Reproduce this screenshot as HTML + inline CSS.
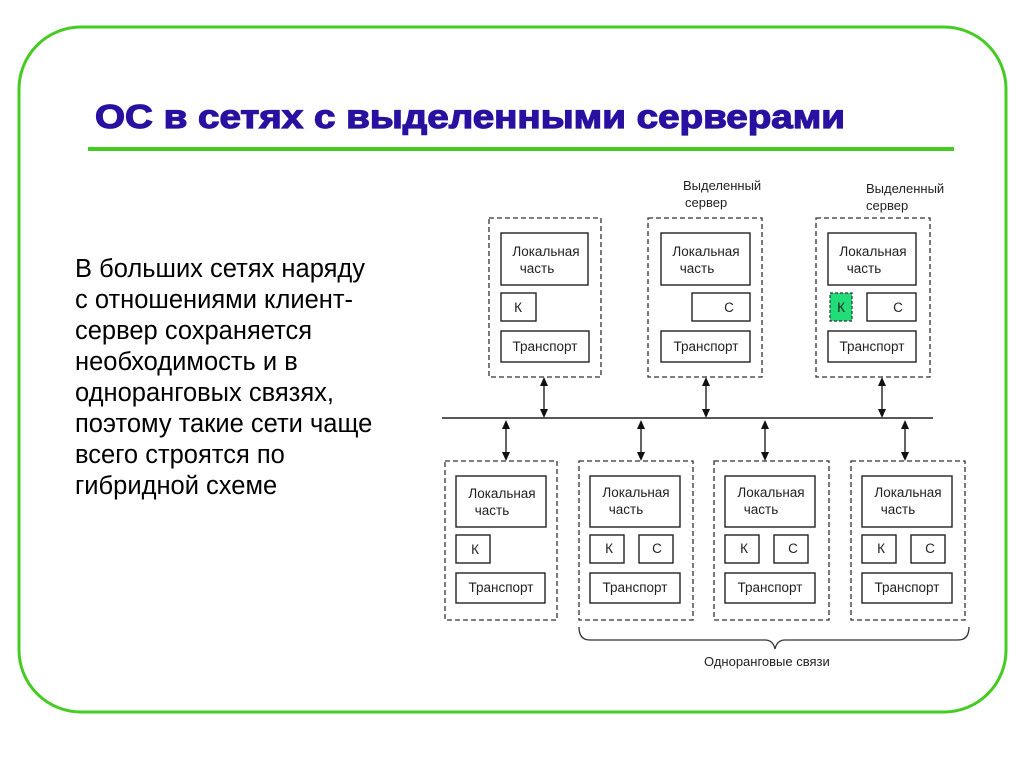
<!DOCTYPE html>
<html><head><meta charset="utf-8"><style>
html,body{margin:0;padding:0;background:#fff;}
svg{display:block;}
</style></head><body>
<svg width="1024" height="767" viewBox="0 0 1024 767" xmlns="http://www.w3.org/2000/svg" font-family="'Liberation Sans', sans-serif">
<rect x="0" y="0" width="1024" height="767" fill="#fff"/>
<rect x="19" y="27" width="987" height="685" rx="62" ry="62" fill="none" stroke="#44cc22" stroke-width="3"/>
<text x="95" y="128" font-size="33" font-weight="bold" fill="#2a10a0" textLength="750" lengthAdjust="spacingAndGlyphs" stroke="#2a10a0" stroke-width="1.2">ОС в сетях с выделенными серверами</text>
<rect x="88" y="147" width="866" height="4" fill="#44cc22"/>
<g font-size="25.5" fill="#000">
<text x="75" y="277">В больших сетях наряду</text>
<text x="75" y="308">с отношениями клиент-</text>
<text x="75" y="339">сервер сохраняется</text>
<text x="75" y="370">необходимость и в</text>
<text x="75" y="401">одноранговых связях,</text>
<text x="75" y="432">поэтому такие сети чаще</text>
<text x="75" y="463">всего строятся по</text>
<text x="75" y="494">гибридной схеме</text>
</g>
<g font-size="13" fill="#222">
<text x="683" y="190">Выделенный</text>
<text x="685" y="207">сервер</text>
<text x="866" y="193">Выделенный</text>
<text x="866" y="210">сервер</text>
<text x="704" y="666">Одноранговые связи</text>
</g>
<g fill="none" stroke="#333" stroke-width="1.3" stroke-dasharray="5,3">
<rect x="489" y="218" width="112" height="159"/>
<rect x="648" y="218" width="114" height="159"/>
<rect x="816" y="218" width="114" height="159"/>
<rect x="445" y="461" width="112" height="159"/>
<rect x="579" y="461" width="114" height="159"/>
<rect x="714" y="461" width="115" height="159"/>
<rect x="851" y="461" width="114" height="159"/>
</g>
<g fill="#fff" stroke="#222" stroke-width="1.4">
<rect x="501" y="233" width="87" height="52"/>
<rect x="501" y="293" width="35" height="28"/>
<rect x="501" y="331" width="88" height="31"/>
<rect x="661" y="233" width="89" height="52"/>
<rect x="692" y="293" width="58" height="28"/>
<rect x="661" y="331" width="89" height="31"/>
<rect x="828" y="233" width="88" height="52"/>
<rect x="867" y="293" width="49" height="28"/>
<rect x="828" y="331" width="88" height="31"/>
<rect x="456" y="476" width="90" height="51"/>
<rect x="456" y="535" width="34" height="28"/>
<rect x="456" y="573" width="89" height="30"/>
<rect x="590" y="476" width="90" height="51"/>
<rect x="590" y="535" width="34" height="28"/>
<rect x="639" y="535" width="34" height="28"/>
<rect x="590" y="573" width="90" height="30"/>
<rect x="725" y="476" width="90" height="51"/>
<rect x="725" y="535" width="34" height="28"/>
<rect x="774" y="535" width="34" height="28"/>
<rect x="725" y="573" width="90" height="30"/>
<rect x="862" y="476" width="90" height="51"/>
<rect x="862" y="535" width="34" height="28"/>
<rect x="911" y="535" width="34" height="28"/>
<rect x="862" y="573" width="90" height="30"/>
</g>
<rect x="830" y="293" width="22" height="28" fill="#22dd77" stroke="#333" stroke-width="1.2" stroke-dasharray="3,2"/>
<g font-size="13.5" fill="#222" text-anchor="middle">
<text x="546" y="256">Локальная</text><text x="537" y="273">часть</text>
<text x="518" y="312">К</text><text x="545" y="351">Транспорт</text>
<text x="706" y="256">Локальная</text><text x="697" y="273">часть</text>
<text x="729" y="312">С</text><text x="706" y="351">Транспорт</text>
<text x="873" y="256">Локальная</text><text x="864" y="273">часть</text>
<text x="841" y="312">К</text><text x="898" y="312">С</text><text x="872" y="351">Транспорт</text>
<text x="502" y="498">Локальная</text><text x="492" y="515">часть</text>
<text x="475" y="554">К</text><text x="501" y="592">Транспорт</text>
<text x="636" y="497">Локальная</text><text x="626" y="514">часть</text>
<text x="609" y="553">К</text><text x="657" y="553">С</text><text x="635" y="592">Транспорт</text>
<text x="771" y="497">Локальная</text><text x="761" y="514">часть</text>
<text x="744" y="553">К</text><text x="793" y="553">С</text><text x="770" y="592">Транспорт</text>
<text x="908" y="497">Локальная</text><text x="898" y="514">часть</text>
<text x="881" y="553">К</text><text x="930" y="553">С</text><text x="907" y="592">Транспорт</text>
</g>
<line x1="442" y1="418" x2="933" y2="418" stroke="#222" stroke-width="1.5"/>
<g stroke="#222" stroke-width="1.4">
<line x1="544" y1="383" x2="544" y2="412"/>
<line x1="706" y1="383" x2="706" y2="412"/>
<line x1="882" y1="383" x2="882" y2="412"/>
<line x1="506" y1="426" x2="506" y2="455"/>
<line x1="641" y1="426" x2="641" y2="455"/>
<line x1="765" y1="426" x2="765" y2="455"/>
<line x1="905" y1="426" x2="905" y2="455"/>
</g>
<g fill="#111">
<polygon points="544,377 540,386 548,386"/><polygon points="544,418 540,409 548,409"/>
<polygon points="706,377 702,386 710,386"/><polygon points="706,418 702,409 710,409"/>
<polygon points="882,377 878,386 886,386"/><polygon points="882,418 878,409 886,409"/>
<polygon points="506,420 502,429 510,429"/><polygon points="506,461 502,452 510,452"/>
<polygon points="641,420 637,429 645,429"/><polygon points="641,461 637,452 645,452"/>
<polygon points="765,420 761,429 769,429"/><polygon points="765,461 761,452 769,452"/>
<polygon points="905,420 901,429 909,429"/><polygon points="905,461 901,452 909,452"/>
</g>
<path d="M579,627 Q579,640 590,640 L765,640 Q773,640 775,649 Q777,640 785,640 L958,640 Q969,640 969,627" fill="none" stroke="#333" stroke-width="1.3"/>
</svg>
</body></html>
